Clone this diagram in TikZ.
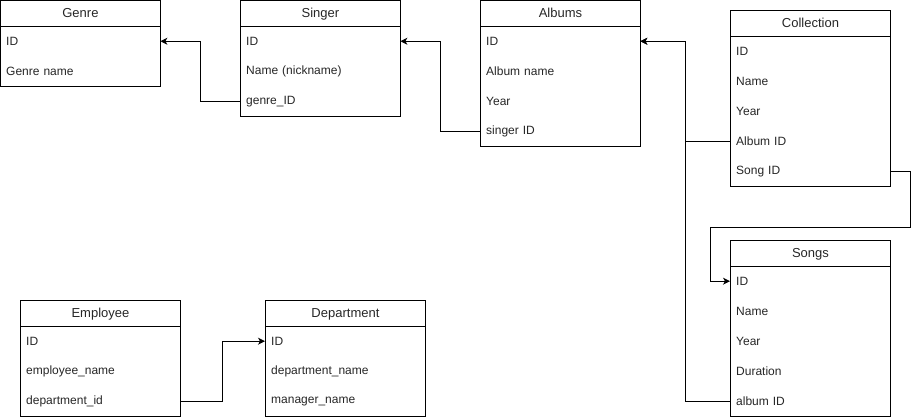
\documentclass[tikz,border=0pt]{standalone}
\usepackage{fontspec}
\setmainfont{Liberation Sans}
\usetikzlibrary{arrows.meta,positioning}
\tikzset{
  x=1pt,y=-1pt,
  every node/.style={font=\fontsize{12}{14}\selectfont, text=black!85},
  hdr/.style={draw, line width=0.9pt, minimum width=160pt, minimum height=26pt, inner sep=0pt, anchor=north west, font=\fontsize{13}{15}\selectfont, text depth=1pt},
  row/.style={minimum height=30pt, text width=148pt, inner xsep=6pt, inner ysep=0pt, align=left, anchor=north west},
  body/.style={draw, line width=0.9pt, minimum width=160pt, inner sep=0pt, anchor=north west},
  conn/.style={line width=0.9pt, -{Stealth[length=7pt,width=7pt,inset=2pt]}}
}
\newcommand{\erbox}[5]{%
  % #1 name, #2 x, #3 y, #4 title, #5 number of rows
  \node[body, minimum height={(26+30*#5)*1pt}] (#1) at (#2,#3) {};
  \node[hdr] (#1-h) at (#2,#3) {#4};
}
\begin{document}
\begin{tikzpicture}
\useasboundingbox (0,0) rectangle (919,420);

% Genre
\erbox{gn}{0}{0}{Genre}{2}
\node[row] (gn-id) at (0,26) {ID};
\node[row] (gn-name) at (0,56) {Genre name};

% Singer
\erbox{sg}{240}{0}{Singer}{3}
\node[row] (sg-id) at (240,26) {ID};
\node[row] (sg-name) at (240,56) {Name (nickname)};
\node[row] (sg-genre) at (240,86) {genre\_ID};

% Albums
\erbox{al}{480}{0}{Albums}{4}
\node[row] (al-id) at (480,26) {ID};
\node[row] (al-name) at (480,56) {Album name};
\node[row] (al-year) at (480,86) {Year};
\node[row] (al-singer) at (480,116) {singer ID};

% Collection
\erbox{co}{730}{10}{Collection}{5}
\node[row] (co-id) at (730,36) {ID};
\node[row] (co-name) at (730,66) {Name};
\node[row] (co-year) at (730,96) {Year};
\node[row] (co-album) at (730,126) {Album ID};
\node[row] (co-song) at (730,156) {Song ID};

% Songs
\erbox{so}{730}{240}{Songs}{5}
\node[row] (so-id) at (730,266) {ID};
\node[row] (so-name) at (730,296) {Name};
\node[row] (so-year) at (730,326) {Year};
\node[row] (so-dur) at (730,356) {Duration};
\node[row] (so-album) at (730,386) {album ID};

% Employee
\erbox{em}{20}{300}{Employee}{3}
\node[row] (em-id) at (20,326) {ID};
\node[row] (em-name) at (20,356) {employee\_name};
\node[row] (em-dep) at (20,386) {department\_id};

% Department
\erbox{dp}{265}{300}{Department}{3}
\node[row] (dp-id) at (265,326) {ID};
\node[row] (dp-name) at (265,356) {department\_name};
\node[row] (dp-mgr) at (265,386) {manager\_name};

% connectors
\draw[conn] (sg-genre.west) -- ++(-40,0) |- (gn-id.east);
\draw[conn] (al-singer.west) -- ++(-40,0) |- (sg-id.east);
\draw[conn] (co-album.west) -- ++(-45,0) |- (al-id.east);
\draw[conn] (so-album.west) -- ++(-45,0) |- (al-id.east);
\draw[conn] (co-song.east) -- ++(20,0) -- ++(0,56) -| ([xshift=-20pt]so-id.west) -- (so-id.west);
\draw[conn] (em-dep.east) -- ++(42,0) |- (dp-id.west);
\end{tikzpicture}
\end{document}
